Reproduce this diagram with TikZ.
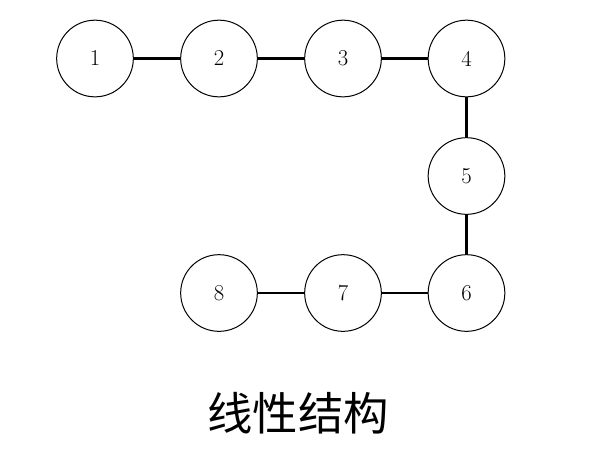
\documentclass[tikz,border=0pt]{standalone}
\usepackage{fontspec}
\newfontfamily\cjk{Noto Sans CJK SC}
\begin{document}
\begin{tikzpicture}[x=0.75pt,y=-0.75pt,
  nd/.style={circle,draw,line width=0.75pt,minimum size=57.5pt,inner sep=0pt,font=\fontsize{17}{17}\selectfont},
  ln/.style={line width=2.2pt}]
\useasboundingbox (0,0) rectangle (603,462);
\node[nd] (n1) at (95,58.5) {1};
\node[nd] (n2) at (219,58.5) {2};
\node[nd] (n3) at (343,58.5) {3};
\node[nd] (n4) at (466.5,58.5) {4};
\node[nd] (n5) at (466.5,176) {5};
\node[nd] (n6) at (466.5,293) {6};
\node[nd] (n7) at (343,293) {7};
\node[nd] (n8) at (219,293) {8};
\draw[ln] (n1) -- (n2);
\draw[ln] (n2) -- (n3);
\draw[ln] (n3) -- (n4);
\draw[ln] (n4) -- (n5);
\draw[ln] (n5) -- (n6);
\draw[ln] (n6) -- (n7);
\draw[ln] (n7) -- (n8);
\node[font=\cjk\fontsize{34}{34}\selectfont] (cap) at (298,413) {线性结构};
\end{tikzpicture}
\end{document}
